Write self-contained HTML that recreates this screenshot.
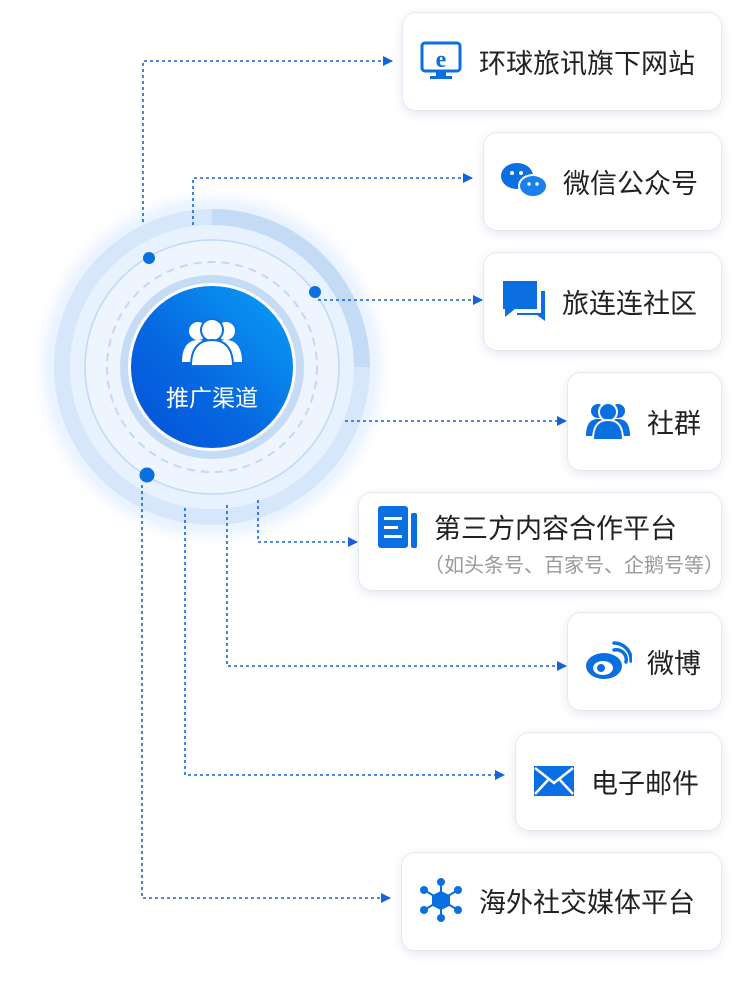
<!DOCTYPE html>
<html><head><meta charset="utf-8"><style>
body{margin:0;width:750px;height:990px;background:#fff;position:relative;font-family:"Liberation Sans","Noto Sans CJK SC",sans-serif;overflow:hidden}
.card{position:absolute;background:#fff;border-radius:14px;border:1px solid #e6e9ef;box-shadow:0 3px 10px rgba(40,70,130,0.12);box-sizing:border-box}
.t{position:absolute;font-size:27px;color:#222;white-space:nowrap}
.ic{position:absolute}
</style></head><body>
<svg width="750" height="990" style="position:absolute;left:0;top:0">
<defs>
<radialGradient id="glow" cx="50%" cy="50%" r="50%"><stop offset="0.65" stop-color="#e6f1ff"/><stop offset="0.88" stop-color="#eaf3ff"/><stop offset="1" stop-color="#ffffff" stop-opacity="0"/></radialGradient>
<linearGradient id="mg" x1="1" y1="0" x2="0" y2="1"><stop offset="0" stop-color="#0aa0f5"/><stop offset="0.6" stop-color="#0666e0"/><stop offset="1" stop-color="#0452d6"/></linearGradient>
<marker id="ar" markerWidth="10" markerHeight="10" refX="9" refY="5" orient="auto" markerUnits="userSpaceOnUse"><path d="M0,0 L10,5 L0,10z" fill="#1463dc"/></marker>
</defs>
<circle cx="212" cy="367" r="185" fill="url(#glow)"/>
<circle cx="212" cy="367" r="150" fill="none" stroke="#d6e6fb" stroke-width="16"/>
<path d="M212,217 A150,150 0 0 1 362,367" fill="none" stroke="#c4dbf6" stroke-width="16"/>
<circle cx="212" cy="367" r="127" fill="#eef5ff" stroke="#c2d8f5" stroke-width="1.5"/>
<circle cx="212" cy="367" r="105" fill="none" stroke="#c2d8f5" stroke-width="2" stroke-dasharray="8 6"/>
<circle cx="212" cy="367" r="92" fill="#c6dcf6"/>
<circle cx="212" cy="367" r="84" fill="#ffffff"/>
<circle cx="212" cy="367" r="81" fill="url(#mg)"/>
<g fill="none" stroke="#1463dc" stroke-width="1.6" stroke-dasharray="3 3">
<path d="M143,222 V61 H392" marker-end="url(#ar)"/>
<path d="M193,225 V178 H472" marker-end="url(#ar)"/>
<path d="M318,300 H482" marker-end="url(#ar)"/>
<path d="M345,421 H566" marker-end="url(#ar)"/>
<path d="M258,500 V542 H357" marker-end="url(#ar)"/>
<path d="M227,505 V666 H566" marker-end="url(#ar)"/>
<path d="M185,508 V775 H504" marker-end="url(#ar)"/>
<path d="M142,485 V898 H390" marker-end="url(#ar)"/>
</g>
<circle cx="149" cy="258" r="6" fill="#0a6fe0"/>
<circle cx="315" cy="292" r="6" fill="#0a6fe0"/>
<circle cx="147" cy="475" r="7.5" fill="#0a6fe0"/>
<g fill="#fff">
<circle cx="198" cy="331" r="9"/><circle cx="226" cy="331" r="9"/>
<path d="M182,362 C182,345 190,340 198,340 C206,340 214,345 214,362z"/>
<path d="M210,362 C210,345 218,340 226,340 C234,340 242,345 242,362z"/>
<circle cx="212" cy="330" r="11" stroke="#0a6fe0" stroke-width="2"/>
<path d="M191,366 C191,346 201,340 212,340 C223,340 233,346 233,366z" stroke="#0a6fe0" stroke-width="2"/>
</g>
<text x="212" y="406" text-anchor="middle" font-size="23" fill="#fff" font-family="Liberation Sans,Noto Sans CJK SC,sans-serif">推广渠道</text>
</svg>

<div class="card" style="left:402px;top:12px;width:320px;height:99px"></div>
<div class="card" style="left:483px;top:132px;width:239px;height:99px"></div>
<div class="card" style="left:483px;top:252px;width:239px;height:99px"></div>
<div class="card" style="left:567px;top:372px;width:155px;height:99px"></div>
<div class="card" style="left:358px;top:492px;width:364px;height:99px"></div>
<div class="card" style="left:567px;top:612px;width:155px;height:99px"></div>
<div class="card" style="left:515px;top:732px;width:207px;height:99px"></div>
<div class="card" style="left:401px;top:852px;width:321px;height:99px"></div>

<svg class="ic" style="left:420px;top:41px" width="42" height="40"><rect x="2" y="2" width="38" height="28" rx="3" fill="none" stroke="#0a6fe0" stroke-width="3"/><rect x="16" y="31" width="10" height="4" fill="#0a6fe0"/><rect x="10" y="35" width="22" height="3" fill="#0a6fe0"/><text x="21" y="26" text-anchor="middle" font-size="24" font-weight="bold" fill="#0a6fe0" font-family="Liberation Serif,serif">e</text></svg>
<div class="t" style="left:479px;top:42px">环球旅讯旗下网站</div>

<svg class="ic" style="left:500px;top:162px" width="48" height="38"><ellipse cx="17" cy="14" rx="16" ry="13" fill="#0a6fe0"/><ellipse cx="33" cy="24" rx="14" ry="11" fill="#1a80ec" stroke="#fff" stroke-width="2"/><circle cx="12" cy="11" r="2" fill="#fff"/><circle cx="21" cy="11" r="2" fill="#fff"/><circle cx="29" cy="22" r="1.7" fill="#fff"/><circle cx="37" cy="22" r="1.7" fill="#fff"/></svg>
<div class="t" style="left:563px;top:162px">微信公众号</div>

<svg class="ic" style="left:501px;top:279px" width="46" height="44"><path d="M2,2 H36 V30 H14 L4,38 V30 H2z" fill="#0a6fe0"/><path d="M40,12 H44 V42 L36,36 H16 V34 H40z" fill="#0a6fe0"/></svg>
<div class="t" style="left:562px;top:282px">旅连连社区</div>

<svg class="ic" style="left:585px;top:402px" width="46" height="38"><g fill="#0a6fe0"><circle cx="13" cy="9" r="7"/><circle cx="33" cy="9" r="7"/><path d="M1,34 C1,20 7,17 13,17 C19,17 25,20 25,34z"/><path d="M21,34 C21,20 27,17 33,17 C39,17 45,20 45,34z"/><circle cx="23" cy="10" r="9" stroke="#fff" stroke-width="2"/><path d="M8,38 C8,22 15,18 23,18 C31,18 38,22 38,38z" stroke="#fff" stroke-width="2"/></g></svg>
<div class="t" style="left:647px;top:402px">社群</div>

<svg class="ic" style="left:377px;top:505px" width="42" height="44"><rect x="1" y="1" width="30" height="42" rx="3" fill="#0a6fe0"/><rect x="34" y="8" width="6" height="35" rx="2" fill="#0a6fe0"/><rect x="7" y="12" width="18" height="3" fill="#fff"/><rect x="7" y="21" width="14" height="3" fill="#fff"/><rect x="7" y="30" width="18" height="3" fill="#fff"/></svg>
<div class="t" style="left:434px;top:507px">第三方内容合作平台</div>
<div class="t" style="left:424px;top:549px;font-size:20px;color:#999">（如头条号、百家号、企鹅号等）</div>

<svg class="ic" style="left:584px;top:640px" width="48" height="42"><ellipse cx="20" cy="26" rx="18" ry="13" fill="#0a6fe0"/><ellipse cx="19" cy="28" rx="10" ry="7" fill="#fff"/><circle cx="17" cy="28" r="4" fill="#0a6fe0"/><path d="M30,10 A10,10 0 0 1 42,22" fill="none" stroke="#0a6fe0" stroke-width="3.5" stroke-linecap="round"/><path d="M30,3 A17,17 0 0 1 47,21" fill="none" stroke="#0a6fe0" stroke-width="3.5" stroke-linecap="round"/></svg>
<div class="t" style="left:647px;top:642px">微博</div>

<svg class="ic" style="left:533px;top:765px" width="42" height="32"><rect x="1" y="1" width="40" height="30" fill="#0a6fe0"/><path d="M2,3 L21,18 L40,3 M2,29 L15,15 M40,29 L27,15" fill="none" stroke="#fff" stroke-width="2.5"/></svg>
<div class="t" style="left:591px;top:762px">电子邮件</div>

<svg class="ic" style="left:419px;top:878px" width="44" height="44"><g stroke="#0a6fe0" stroke-width="2" fill="#0a6fe0"><line x1="22" y1="4" x2="22" y2="40"/><line x1="5" y1="12" x2="39" y2="32"/><line x1="39" y1="12" x2="5" y2="32"/><circle cx="22" cy="4" r="3"/><circle cx="22" cy="40" r="3"/><circle cx="5" cy="12" r="3"/><circle cx="39" cy="12" r="3"/><circle cx="5" cy="32" r="3"/><circle cx="39" cy="32" r="3"/><path d="M22,14 L30,18 V27 L22,31 L14,27 V18z"/></g></svg>
<div class="t" style="left:479px;top:881px">海外社交媒体平台</div>
</body></html>
